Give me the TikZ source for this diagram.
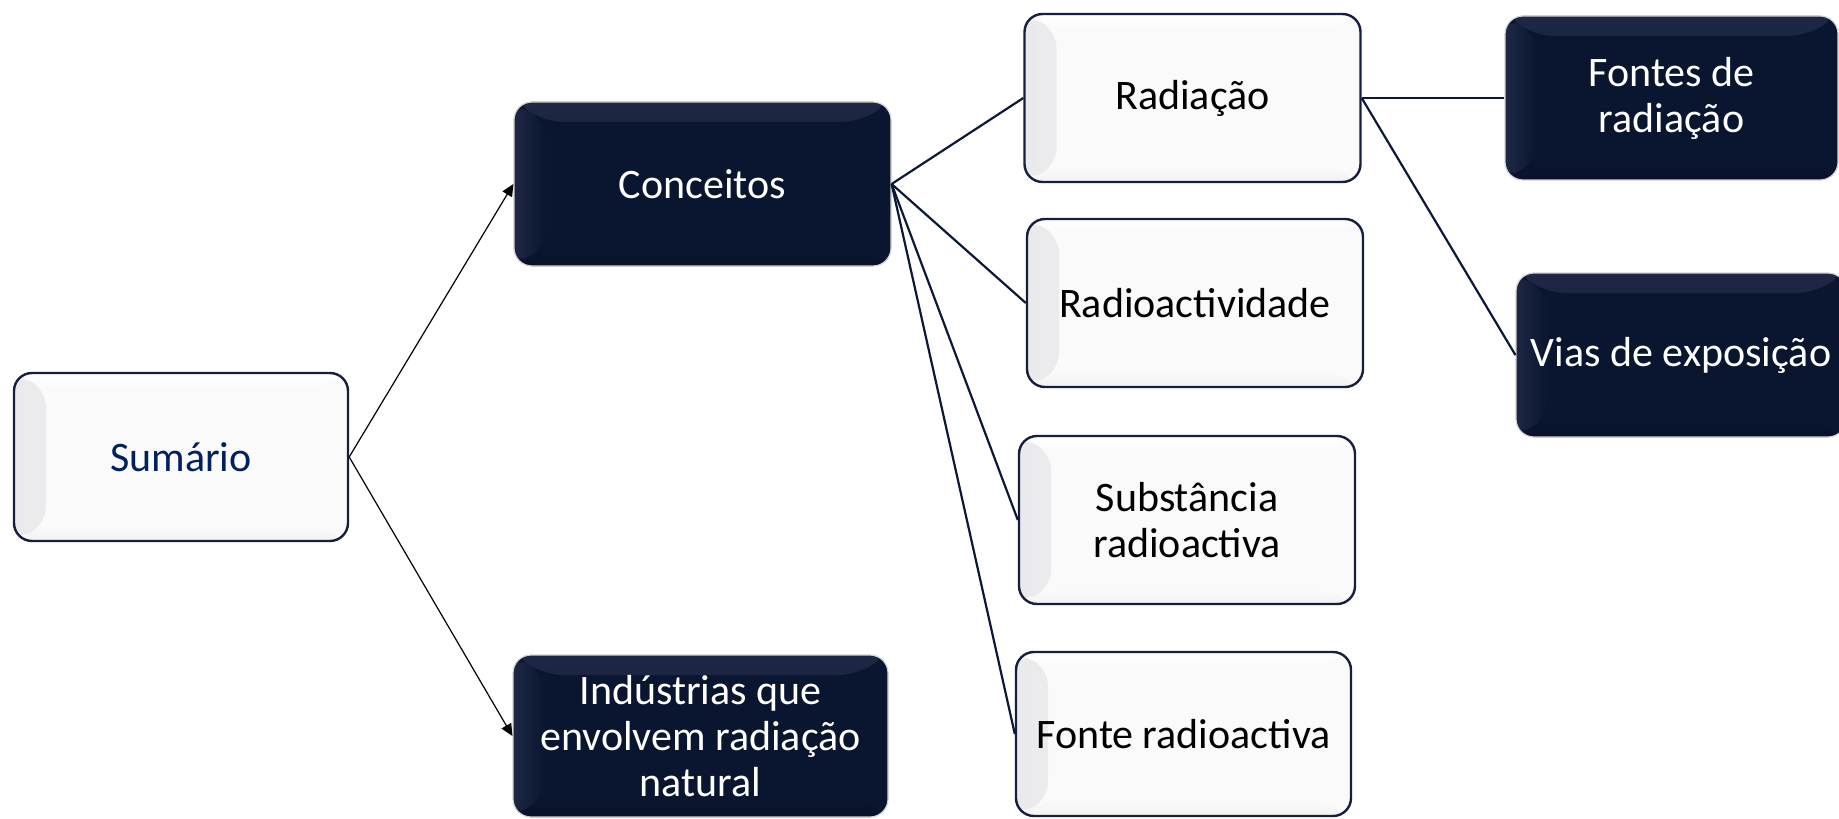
\documentclass[tikz,border=0pt]{standalone}
\usepackage{fontspec}
\setmainfont{Carlito}
\usetikzlibrary{arrows.meta}
\definecolor{navyfill}{RGB}{10,21,48}
\definecolor{navybev}{RGB}{30,40,68}
\definecolor{navyedge}{RGB}{22,32,62}
\definecolor{lightface}{RGB}{250,250,250}
\definecolor{lightbev}{RGB}{234,234,236}
\definecolor{sumblue}{RGB}{0,32,96}
\definecolor{connavy}{RGB}{12,24,58}
\tikzset{
  basebox/.style={rounded corners=9pt, align=center, inner sep=0pt,
    font=\fontsize{21}{23}\selectfont},
  lightbox/.style={basebox, draw=navyedge, line width=1.2pt, fill=lightface, text=black,
    path picture={
      \shade[left color=lightbev, right color=lightface] (path picture bounding box.north west) -- (path picture bounding box.south west)
        -- ([shift={(16pt,8pt)}]path picture bounding box.south west)
        -- ([shift={(16pt,-8pt)}]path picture bounding box.north west) -- cycle;
      \shade[top color=white, bottom color=lightface] (path picture bounding box.north west) -- (path picture bounding box.north east)
        -- ([shift={(-16pt,-8pt)}]path picture bounding box.north east)
        -- ([shift={(16pt,-8pt)}]path picture bounding box.north west) -- cycle;
      \shade[top color=lightface, bottom color=lightbev!50!lightface] (path picture bounding box.south west) -- (path picture bounding box.south east)
        -- ([shift={(-16pt,8pt)}]path picture bounding box.south east)
        -- ([shift={(16pt,8pt)}]path picture bounding box.south west) -- cycle;
    }},
  darkbox/.style={basebox, draw=gray!35, line width=0.6pt, fill=navyfill, text=white,
    path picture={
      \shade[top color=navybev, bottom color=navyfill] (path picture bounding box.north west) -- (path picture bounding box.north east)
        -- ([shift={(-16pt,-10pt)}]path picture bounding box.north east)
        -- ([shift={(16pt,-10pt)}]path picture bounding box.north west) -- cycle;
      \shade[left color=navybev, right color=navyfill] (path picture bounding box.north west) -- (path picture bounding box.south west)
        -- ([shift={(16pt,10pt)}]path picture bounding box.south west)
        -- ([shift={(16pt,-10pt)}]path picture bounding box.north west) -- cycle;
      \shade[top color=navyfill, bottom color=navyfill!85!black] (path picture bounding box.south west) -- (path picture bounding box.south east)
        -- ([shift={(-16pt,10pt)}]path picture bounding box.south east)
        -- ([shift={(16pt,10pt)}]path picture bounding box.south west) -- cycle;
    }},
  arrowline/.style={draw=black, line width=0.6pt, -{Triangle[length=6pt,width=5.5pt]}},
  conline/.style={draw=connavy, line width=1.1pt},
}
\begin{document}
\begin{tikzpicture}[x=0.5pt, y=-0.5pt]
\useasboundingbox (0,0) rectangle (1839,818);
% root
\node[lightbox, text=sumblue, minimum width=167pt, minimum height=84pt] (sum) at (181,457) {Sumário};
% level 1
\node[darkbox, minimum width=188.5pt, minimum height=82pt] (conc) at (702.5,184) {Conceitos};
\node[darkbox, minimum width=187.5pt, minimum height=81pt] (ind) at (700.5,736) {Indústrias que\\envolvem radiação\\natural};
% level 2
\node[lightbox, minimum width=168pt, minimum height=84pt] (rad) at (1192.5,98) {Radiação};
\node[lightbox, minimum width=168pt, minimum height=84pt] (ract) at (1195,303) {Radioactividade};
\node[lightbox, minimum width=168pt, minimum height=84pt] (subs) at (1187,520) {Substância\\radioactiva};
\node[lightbox, minimum width=167.5pt, minimum height=82pt] (fonte) at (1183.5,734) {Fonte radioactiva};
% level 3
\node[darkbox, minimum width=166.5pt, minimum height=82pt] (fontes) at (1671.5,98) {Fontes de\\radiação};
\node[darkbox, minimum width=165pt, minimum height=82pt] (vias) at (1681,355) {Vias de exposição};
% connectors
\draw[arrowline] (sum.east) -- (conc.west);
\draw[arrowline] (sum.east) -- (ind.west);
\draw[conline] (conc.east) -- (rad.west);
\draw[conline] (conc.east) -- (ract.west);
\draw[conline] (conc.east) -- (subs.west);
\draw[conline] (conc.east) -- (fonte.west);
\draw[conline] (rad.east) -- (fontes.west);
\draw[conline] (rad.east) -- (vias.west);
\end{tikzpicture}
\end{document}
